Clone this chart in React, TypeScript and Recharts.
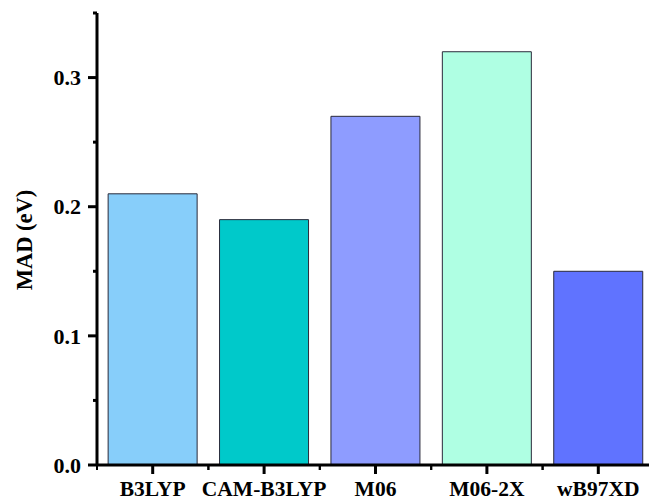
import React from 'react';
import { BarChart, Bar, XAxis, YAxis, Cell, Label } from 'recharts';

// Mean absolute deviation per functional
const methods = ['B3LYP', 'CAM-B3LYP', 'M06', 'M06-2X', 'wB97XD'];
const madValues = [0.21, 0.19, 0.27, 0.32, 0.15];
const barColors = ['#87CEFA', '#00C9CA', '#8E9CFF', '#AFFFE3', '#6073FF'];
const yMajorTicks = [0, 0.1, 0.2, 0.3];
const yAllTicks = [0, 0.05, 0.1, 0.15, 0.2, 0.25, 0.3, 0.35];

const data = methods.map((method, i) => ({ method, mad: madValues[i] }));

const W = 654;
const H = 500;
const MARGIN = { top: 13, right: 0, bottom: 0, left: 0 };
const Y_AXIS_W = 97;
const X_AXIS_H = 35;
const BAND = (W - MARGIN.left - MARGIN.right - Y_AXIS_W) / methods.length;

const FONT = 'Liberation Serif';

const YTick = (props: any) => {
  const { x, y, payload } = props;
  const v = payload.value as number;
  const major = yMajorTicks.some((t) => Math.abs(t - v) < 1e-9);
  return (
    <g>
      <line x1={x - (major ? 9 : 4)} x2={x} y1={y} y2={y} stroke="#000" strokeWidth={3} />
      {major && (
        <text
          x={x - 16}
          y={y}
          dy="0.35em"
          textAnchor="end"
          fontFamily={FONT}
          fontWeight="bold"
          fontSize={22}
          fill="#000"
        >
          {v.toFixed(1)}
        </text>
      )}
    </g>
  );
};

const XTick = (props: any) => {
  const { x, y, payload } = props;
  return (
    <g>
      <line x1={x} x2={x} y1={y} y2={y + 9} stroke="#000" strokeWidth={3} />
      <line x1={x - BAND / 2} x2={x - BAND / 2} y1={y} y2={y + 5} stroke="#000" strokeWidth={2} />
      <line x1={x + BAND / 2} x2={x + BAND / 2} y1={y} y2={y + 5} stroke="#000" strokeWidth={2} />
      <text
        x={x}
        y={y + 31}
        textAnchor="middle"
        fontFamily={FONT}
        fontWeight="bold"
        fontSize={21.5}
        fill="#000"
      >
        {payload.value}
      </text>
    </g>
  );
};

const YTitle = () => (
  <text
    x={32}
    y={240}
    transform="rotate(-90 32 240)"
    textAnchor="middle"
    fontFamily={FONT}
    fontWeight="bold"
    fontSize={22.5}
    fill="#000"
  >
    MAD (eV)
  </text>
);

export default function App() {
  return (
    <div style={{ position: 'fixed', left: 0, top: 0, width: 649, height: 500, overflow: 'hidden', background: '#fff' }}>
      <BarChart width={W} height={H} data={data} margin={MARGIN} barCategoryGap="10%">
        <XAxis
          dataKey="method"
          height={X_AXIS_H}
          axisLine={{ stroke: '#000', strokeWidth: 3 }}
          tickLine={false}
          tickSize={0}
          tickMargin={0}
          tick={<XTick />}
          interval={0}
        />
        <YAxis
          width={Y_AXIS_W}
          domain={[0, 0.35]}
          ticks={yAllTicks}
          interval={0}
          axisLine={{ stroke: '#000', strokeWidth: 3 }}
          tickLine={false}
          tickSize={0}
          tickMargin={0}
          tick={<YTick />}
        >
          <Label content={<YTitle />} />
        </YAxis>
        <Bar dataKey="mad" stroke="#2a2a3a" strokeWidth={1} isAnimationActive={false}>
          {data.map((d, i) => (
            <Cell key={d.method} fill={barColors[i]} />
          ))}
        </Bar>
      </BarChart>
    </div>
  );
}
